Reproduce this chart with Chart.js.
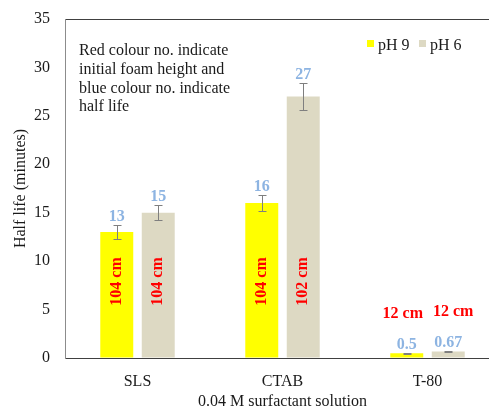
<!DOCTYPE html>
<html>
<head>
<meta charset="utf-8">
<script src="https://cdn.jsdelivr.net/npm/chart.js@4.4.0/dist/chart.umd.min.js"></script>
<style>
    html, body { margin: 0; padding: 0; overflow: hidden; background: #fff; }
    #wrap { width: 510px; height: 410px; }
</style>
</head>
<body>
<div id="wrap"><canvas id="chart" width="510" height="410"></canvas></div>
<script>
const categories = ["SLS", "CTAB", "T-80"];
const seriesNames = ["pH 9", "pH 6"];
const halfLifePh9 = [13, 16, 0.5];
const halfLifePh6 = [15, 27, 0.67];
const errorPh9 = [0.7, 0.8, 0.05];
const errorPh6 = [0.8, 1.4, 0.05];
const foamPh9 = ["104 cm", "104 cm", "12 cm"];
const foamPh6 = ["104 cm", "102 cm", "12 cm"];
const yTickMin = 0;
const yTickMax = 35;
const yTickStep = 5;
const noteLines = [
    "Red colour no. indicate",
    "initial foam height and",
    "blue colour no. indicate",
    "half life"
];

const serif = "'Liberation Serif', 'Times New Roman', serif";

// error bars + blue half life labels + red foam height labels
const labelsPlugin = {
    id: "barLabels",
    afterDatasetsDraw(chart) {
        const ctx = chart.ctx;
        const yScale = chart.scales.y;
        chart.data.datasets.forEach((ds, di) => {
            const meta = chart.getDatasetMeta(di);
            meta.data.forEach((bar, i) => {
                const v = ds.data[i];
                const err = ds.errors[i];
                const top = Math.round(yScale.getPixelForValue(v + err)) + 0.5;
                const bottom = Math.round(yScale.getPixelForValue(v - err)) + 0.5;
                const x = Math.round(bar.x) + 0.5;

                ctx.save();
                ctx.strokeStyle = "#7f7f7f";
                ctx.lineWidth = 1;
                ctx.beginPath();
                ctx.moveTo(x, top);
                ctx.lineTo(x, bottom);
                ctx.moveTo(x - 4, top);
                ctx.lineTo(x + 4, top);
                ctx.moveTo(x - 4, bottom);
                ctx.lineTo(x + 4, bottom);
                ctx.stroke();

                ctx.font = "bold 16px " + serif;
                ctx.textAlign = "center";
                ctx.textBaseline = "alphabetic";
                ctx.fillStyle = "#8DB4E2";
                const blueBase = top - 5;
                ctx.fillText(String(v), bar.x, blueBase);

                ctx.fillStyle = "#FF0000";
                if (v > 5) {
                    ctx.translate(bar.x, yScale.getPixelForValue(7.9));
                    ctx.rotate(-Math.PI / 2);
                    ctx.textBaseline = "middle";
                    ctx.fillText(ds.foam[i], 0, 0);
                } else {
                    // short bars: label sits above, pushed a little apart
                    const shift = di === 0 ? -4 : 5;
                    ctx.fillText(ds.foam[i], bar.x + shift, blueBase - 31);
                }
                ctx.restore();
            });
        });
    },
    afterDraw(chart) {
        const ctx = chart.ctx;
        ctx.save();
        // note text
        ctx.font = "16px " + serif;
        ctx.fillStyle = "#1a1a1a";
        ctx.textAlign = "left";
        ctx.textBaseline = "alphabetic";
        noteLines.forEach((line, i) => {
            ctx.fillText(line, 79, 55 + i * 18.8);
        });
        // legend
        const legendX = [367, 419];
        chart.data.datasets.forEach((ds, di) => {
            ctx.fillStyle = ds.backgroundColor;
            ctx.fillRect(legendX[di], 40, 7, 7);
            ctx.fillStyle = "#1a1a1a";
            ctx.fillText(ds.label, legendX[di] + 11, 50);
        });
        ctx.restore();
    }
};

const chart = new Chart(document.getElementById("chart"), {
    type: "bar",
    data: {
        labels: categories,
        datasets: [
            {
                label: seriesNames[0],
                data: halfLifePh9,
                errors: errorPh9,
                foam: foamPh9,
                backgroundColor: "#FFFF00"
            },
            {
                label: seriesNames[1],
                data: halfLifePh6,
                errors: errorPh6,
                foam: foamPh6,
                backgroundColor: "#DDD9C3"
            }
        ]
    },
    options: {
        responsive: false,
        animation: false,
        categoryPercentage: 0.572,
        barPercentage: 0.795,
        layout: { padding: { top: 19, right: 10, bottom: 0, left: 0 } },
        plugins: {
            legend: { display: false },
            tooltip: { enabled: false }
        },
        scales: {
            x: {
                grid: { display: false, drawTicks: false },
                border: { display: true, color: "#404040", width: 1 },
                ticks: {
                    color: "#1a1a1a",
                    padding: 14,
                    font: { family: serif, size: 16 }
                },
                title: {
                    display: true,
                    text: "0.04 M surfactant solution",
                    color: "#1a1a1a",
                    font: { family: serif, size: 16, lineHeight: 1 },
                    padding: { top: 0, bottom: 0 }
                },
                afterFit: (scale) => { scale.height = 52; }
            },
            y: {
                min: yTickMin,
                max: yTickMax,
                grid: {
                    drawTicks: false,
                    color: (c) => (c.tick && c.tick.value === yTickMax ? "#404040" : "rgba(0,0,0,0)")
                },
                border: { display: true, color: "#8c8c8c", width: 1 },
                ticks: {
                    stepSize: yTickStep,
                    color: "#1a1a1a",
                    padding: 15,
                    font: { family: serif, size: 16 }
                },
                title: {
                    display: true,
                    text: "Half life (minutes)",
                    color: "#1a1a1a",
                    font: { family: serif, size: 16, lineHeight: 1 },
                    padding: { top: 13, bottom: 0 }
                },
                afterFit: (scale) => {
                    scale.width = 65;
                    scale.paddingTop = 0;
                    scale.paddingBottom = 0;
                }
            }
        }
    },
    plugins: [labelsPlugin]
});
</script>
</body>
</html>
